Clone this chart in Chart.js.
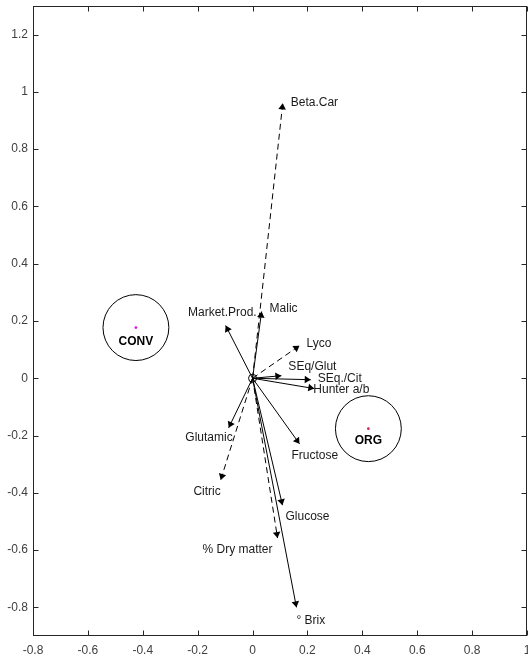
<!DOCTYPE html>
<html>
<head>
<meta charset="utf-8">
<script src="https://cdn.jsdelivr.net/npm/chart.js@4/dist/chart.umd.min.js"></script>
<style>
  html, body { margin: 0; padding: 0; background: #fff; overflow: hidden; }
  #wrap { width: 528px; height: 661px; position: relative; }
</style>
</head>
<body>
<div id="wrap"><canvas id="biplot"></canvas></div>
<script>
// Variable loadings (PC1, PC2)
const variables = ['Beta.Car', 'Malic', 'Market.Prod.', 'Lyco', 'SEq/Glut', 'SEq./Cit', 'Hunter a/b',
                   'Glutamic', 'Fructose', 'Citric', 'Glucose', '% Dry matter', '\u00B0 Brix'];
const loadingX = [0.110, 0.033, -0.098, 0.171, 0.105, 0.212, 0.225, -0.087, 0.171, -0.116, 0.109, 0.091, 0.160];
const loadingY = [0.960, 0.233, 0.184, 0.114, 0.009, -0.005, -0.036, -0.173, -0.229, -0.355, -0.443, -0.558, -0.800];

// Group centroids
const groups = ['CONV', 'ORG'];
const groupX = [-0.425, 0.422];
const groupY = [0.177, -0.176];
const groupRadius = 0.12;

// Axis ticks
const xTicks = [-0.8, -0.6, -0.4, -0.2, 0, 0.2, 0.4, 0.6, 0.8, 1];
const yTicks = [-0.8, -0.6, -0.4, -0.2, 0, 0.2, 0.4, 0.6, 0.8, 1, 1.2];

// ---- styling ----
const dashedVars = ['Beta.Car', 'Lyco', 'Citric', '% Dry matter'];
const groupDotColors = ['#e011e0', '#d02a6a'];
// label anchor offsets in pixels from the arrow tip: [dx, dy, align]
const labelOffsets = {
  'Beta.Car':     [8, -1, 'left'],
  'Malic':        [8, -3, 'left'],
  'Market.Prod.': [31, -13, 'right'],
  'Lyco':         [7, -2, 'left'],
  'SEq/Glut':     [7, -9, 'left'],
  'SEq./Cit':     [7, -1, 'left'],
  'Hunter a/b':   [-1, 1, 'left'],
  'Glutamic':     [4, 10, 'right'],
  'Fructose':     [-8, 12, 'left'],
  'Citric':       [0, 12, 'right'],
  'Glucose':      [3, 12, 'left'],
  '% Dry matter': [-5, 12, 'right'],
  '\u00B0 Brix':  [0, 13, 'left']
};
const FONT = "'Liberation Sans', Arial, Helvetica, sans-serif";
const AXIS_COLOR = '#262626';

const datasets = [];
variables.forEach((name, i) => {
  datasets.push({
    label: name,
    kind: 'arrow',
    data: [{ x: 0, y: 0 }, { x: loadingX[i], y: loadingY[i] }],
    showLine: true,
    borderColor: '#000',
    borderWidth: 1,
    borderDash: dashedVars.includes(name) ? [6, 4] : [],
    pointRadius: 0,
    fill: false
  });
});
datasets.push({
  label: 'groups',
  kind: 'groupCircle',
  data: groups.map((g, i) => ({ x: groupX[i], y: groupY[i] })),
  showLine: false,
  pointStyle: 'circle',
  pointRadius: ctx => {
    const s = ctx.chart.scales.x;
    return Math.abs(s.getPixelForValue(groupRadius) - s.getPixelForValue(0));
  },
  borderColor: '#000',
  borderWidth: 1,
  backgroundColor: 'rgba(0,0,0,0)'
});
datasets.push({
  label: 'centroids',
  kind: 'groupDot',
  data: groups.map((g, i) => ({ x: groupX[i], y: groupY[i] })),
  showLine: false,
  pointRadius: 1.4,
  borderWidth: 0,
  backgroundColor: groupDotColors
});
datasets.push({
  label: 'origin',
  kind: 'origin',
  data: [{ x: 0, y: 0 }],
  showLine: false,
  pointRadius: 4,
  borderWidth: 1,
  borderColor: '#000',
  backgroundColor: 'rgba(0,0,0,0)'
});

const biplotDecor = {
  id: 'biplotDecor',
  afterDatasetsDraw(chart) {
    const ctx = chart.ctx;
    ctx.save();
    chart.data.datasets.forEach((ds, i) => {
      const meta = chart.getDatasetMeta(i);
      if (ds.kind === 'arrow') {
        const o = meta.data[0], t = meta.data[1];
        const ang = Math.atan2(t.y - o.y, t.x - o.x);
        const L = 6, W = 3.8;
        const bx = t.x - L * Math.cos(ang), by = t.y - L * Math.sin(ang);
        ctx.fillStyle = '#000';
        ctx.beginPath();
        ctx.moveTo(t.x, t.y);
        ctx.lineTo(bx + W * Math.sin(ang), by - W * Math.cos(ang));
        ctx.lineTo(bx - W * Math.sin(ang), by + W * Math.cos(ang));
        ctx.closePath();
        ctx.fill();
        const off = labelOffsets[ds.label];
        ctx.font = '12px ' + FONT;
        ctx.fillStyle = '#1a1a1a';
        ctx.textAlign = off[2];
        ctx.textBaseline = 'middle';
        ctx.fillText(ds.label, t.x + off[0], t.y + off[1]);
      }
      if (ds.kind === 'groupDot') {
        ctx.font = 'bold 12px ' + FONT;
        ctx.fillStyle = '#000';
        ctx.textAlign = 'center';
        ctx.textBaseline = 'middle';
        meta.data.forEach((p, k) => {
          ctx.fillText(groups[k], p.x, p.y + (k === 0 ? 14 : 12));
        });
      }
    });
    ctx.restore();
  },
  afterDraw(chart) {
    const { ctx, chartArea: a, scales } = chart;
    const l = Math.round(a.left) + 0.5, r = Math.round(a.right) - 0.5;
    const t = Math.round(a.top) + 0.5, b = Math.round(a.bottom) - 0.5;
    ctx.save();
    ctx.strokeStyle = AXIS_COLOR;
    ctx.lineWidth = 1;
    ctx.strokeRect(l, t, r - l, b - t);
    const tl = 5;
    ctx.beginPath();
    xTicks.forEach(v => {
      const px = Math.round(scales.x.getPixelForValue(v)) + 0.5;
      ctx.moveTo(px, b); ctx.lineTo(px, b - tl);
      ctx.moveTo(px, t); ctx.lineTo(px, t + tl);
    });
    yTicks.forEach(v => {
      const py = Math.round(scales.y.getPixelForValue(v)) + 0.5;
      ctx.moveTo(l, py); ctx.lineTo(l + tl, py);
      ctx.moveTo(r, py); ctx.lineTo(r - tl, py);
    });
    ctx.stroke();
    ctx.restore();
  }
};

const tickFont = { family: FONT, size: 12 };
new Chart(document.getElementById('biplot'), {
  type: 'scatter',
  data: { datasets },
  options: {
    responsive: true,
    maintainAspectRatio: false,
    animation: false,
    events: [],
    layout: { autoPadding: false, padding: { top: 6, right: 1, left: 0, bottom: 0 } },
    plugins: { legend: { display: false }, tooltip: { enabled: false } },
    scales: {
      x: {
        type: 'linear',
        min: -0.8,
        max: 1,
        afterBuildTicks: s => { s.ticks = xTicks.map(v => ({ value: v })); },
        afterFit: s => { s.height = 25; s.paddingLeft = 0; s.paddingRight = 0; },
        grid: { display: false, drawTicks: false },
        border: { display: false },
        ticks: { color: '#404040', font: tickFont, padding: 7, maxRotation: 0, autoSkip: false,
                 callback: v => String(v) }
      },
      y: {
        type: 'linear',
        min: -0.9,
        max: 1.3,
        afterBuildTicks: s => { s.ticks = yTicks.map(v => ({ value: v })); },
        afterFit: s => { s.width = 33; s.paddingTop = 0; s.paddingBottom = 0; },
        grid: { display: false, drawTicks: false },
        border: { display: false },
        ticks: { color: '#404040', font: tickFont, padding: 5, autoSkip: false,
                 callback: v => String(v) }
      }
    }
  },
  plugins: [biplotDecor]
});
</script>
</body>
</html>
